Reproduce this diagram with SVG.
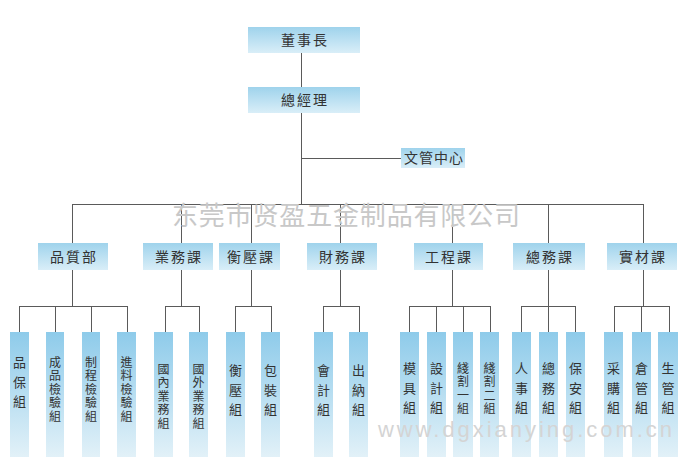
<svg xmlns="http://www.w3.org/2000/svg" width="690" height="475" viewBox="0 0 690 475">
<defs>
<linearGradient id="gTop" x1="0" y1="0" x2="0" y2="1">
<stop offset="0" stop-color="#9fd3ec"/>
<stop offset="1" stop-color="#d9eef8"/>
</linearGradient>
<linearGradient id="gSub" x1="0" y1="0" x2="0" y2="1">
<stop offset="0" stop-color="#8ecbea"/>
<stop offset="1" stop-color="#e2f1f8"/>
</linearGradient>
<style>
.b{fill:url(#gTop);}
.s{fill:url(#gSub);}
.t{font-family:"Noto Sans CJK TC","Noto Sans CJK SC",sans-serif;font-size:14px;fill:#333;text-anchor:middle;letter-spacing:2px;}
.v3,.v4,.v5{font-family:"Noto Sans CJK TC","Noto Sans CJK SC",sans-serif;fill:#333;text-anchor:middle;writing-mode:vertical-rl;}
.v3{font-size:13px;letter-spacing:6.5px;}
.v4{font-size:12px;letter-spacing:1.3px;}
.v5{font-size:12px;letter-spacing:1.5px;}
.c{stroke:#5a5a5a;stroke-width:1;fill:none;}
.wm{font-family:"Noto Sans CJK SC","Noto Sans CJK TC",sans-serif;font-size:26px;fill:#c8c8c8;}
.url{font-family:"Liberation Sans",Arial,sans-serif;font-size:22px;fill:#d4d4d4;}
</style>
</defs>
<rect width="690" height="475" fill="#fff"/>

<g id="connectors" class="c">
<path d="M301.5 53V87M301.5 113V204M301.5 158.5H401M72.5 204.5H643.5"/>
<path d="M72.5 204V243M181.5 204V243M251.5 204V243M340.5 204V243M452.5 204V243M548.5 204V243M643.5 204V243"/>
<path d="M72.5 270V306M19.5 306.5H127.5M19.5 306V332M55.5 306V332M91.5 306V332M127.5 306V332"/>
<path d="M181.5 270V306M165.5 306.5H199.5M165.5 306V332M199.5 306V332"/>
<path d="M251.5 270V306M235.5 306.5H271.5M235.5 306V332M271.5 306V332"/>
<path d="M340.5 270V306M323.5 306.5H359.5M323.5 306V332M359.5 306V332"/>
<path d="M452.5 270V306M409.5 306.5H490.5M409.5 306V332M436.5 306V332M463.5 306V332M490.5 306V332"/>
<path d="M548.5 270V306M521.5 306.5H575.5M521.5 306V332M548.5 306V332M575.5 306V332"/>
<path d="M643.5 270V306M614.5 306.5H669.5M614.5 306V332M641.5 306V332M669.5 306V332"/>
</g>

<text class="wm" x="172" y="225" textLength="348" lengthAdjust="spacing">东莞市贤盈五金制品有限公司</text>

<g id="n-chairman"><rect class="b" x="248" y="27" width="112" height="26"/><text class="t" x="305" y="45">董事長</text></g>
<g id="n-gm"><rect class="b" x="248" y="87" width="112" height="26"/><text class="t" x="305" y="105">總經理</text></g>
<g id="n-doc"><rect class="b" x="401" y="148" width="64" height="20"/><text class="t" x="434" y="163" style="letter-spacing:1px">文管中心</text></g>

<g id="d-qa"><rect class="b" x="38" y="243" width="70" height="27"/><text class="t" x="74" y="262">品質部</text></g>
<g id="d-sales"><rect class="b" x="143" y="243" width="70" height="27"/><text class="t" x="179" y="262">業務課</text></g>
<g id="d-press"><rect class="b" x="219" y="243" width="61" height="27"/><text class="t" x="251" y="262">衡壓課</text></g>
<g id="d-fin"><rect class="b" x="307" y="243" width="70" height="27"/><text class="t" x="343" y="262">財務課</text></g>
<g id="d-eng"><rect class="b" x="414" y="243" width="69" height="27"/><text class="t" x="449" y="262">工程課</text></g>
<g id="d-admin"><rect class="b" x="513" y="243" width="72" height="27"/><text class="t" x="550" y="262">總務課</text></g>
<g id="d-mat"><rect class="b" x="607" y="243" width="70" height="27"/><text class="t" x="643" y="262">實材課</text></g>

<g id="s1"><rect class="s" x="10" y="332" width="19" height="125"/><text class="v3" x="19.5" y="385">品保組</text></g>
<g id="s2"><rect class="s" x="46" y="332" width="18" height="125"/><text class="v5" x="55" y="390">成品檢驗組</text></g>
<g id="s3"><rect class="s" x="82" y="332" width="18" height="125"/><text class="v5" x="91" y="390">制程檢驗組</text></g>
<g id="s4"><rect class="s" x="117" y="332" width="19" height="125"/><text class="v5" x="126.5" y="390">進料檢驗組</text></g>
<g id="s5"><rect class="s" x="154" y="332" width="19" height="125"/><text class="v5" x="163.5" y="397">國內業務組</text></g>
<g id="s6"><rect class="s" x="189" y="332" width="19" height="125"/><text class="v5" x="198.5" y="397">國外業務組</text></g>
<g id="s7"><rect class="s" x="226" y="332" width="19" height="125"/><text class="v3" x="235.5" y="393">衡壓組</text></g>
<g id="s8"><rect class="s" x="261" y="332" width="19" height="125"/><text class="v3" x="270.5" y="393">包裝組</text></g>
<g id="s9"><rect class="s" x="314" y="332" width="19" height="125"/><text class="v3" x="323.5" y="393">會計組</text></g>
<g id="s10"><rect class="s" x="349" y="332" width="19" height="125"/><text class="v3" x="358.5" y="393">出納組</text></g>
<g id="s11"><rect class="s" x="400" y="332" width="19" height="125"/><text class="v3" x="409.5" y="391">模具組</text></g>
<g id="s12"><rect class="s" x="427" y="332" width="19" height="125"/><text class="v3" x="436.5" y="391">設計組</text></g>
<g id="s13"><rect class="s" x="453" y="332" width="20" height="125"/><text class="v4" x="463" y="389">綫割一組</text></g>
<g id="s14"><rect class="s" x="480" y="332" width="19" height="125"/><text class="v4" x="489.5" y="389">綫割二組</text></g>
<g id="s15"><rect class="s" x="512" y="332" width="19" height="125"/><text class="v3" x="521.5" y="391">人事組</text></g>
<g id="s16"><rect class="s" x="539" y="332" width="19" height="125"/><text class="v3" x="548.5" y="391">總務組</text></g>
<g id="s17"><rect class="s" x="566" y="332" width="19" height="125"/><text class="v3" x="575.5" y="391">保安組</text></g>
<g id="s18"><rect class="s" x="604" y="332" width="19" height="125"/><text class="v3" x="613.5" y="391">采購組</text></g>
<g id="s19"><rect class="s" x="632" y="332" width="19" height="125"/><text class="v3" x="641.5" y="391">倉管組</text></g>
<g id="s20"><rect class="s" x="658" y="332" width="20" height="125"/><text class="v3" x="668" y="391">生管組</text></g>

<text class="url" x="378" y="437" textLength="294" lengthAdjust="spacing">www.dgxianying.com.cn</text>
</svg>
